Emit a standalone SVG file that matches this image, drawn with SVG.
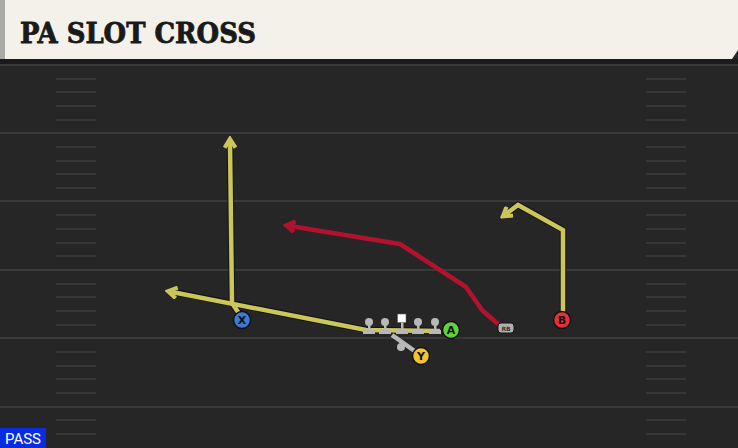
<svg xmlns="http://www.w3.org/2000/svg" width="738" height="448" viewBox="0 0 738 448">
<defs>
<style>
.yard{stroke:#3a3a3a;stroke-width:2}
.hash{stroke:#3c3c3c;stroke-width:1.5}
.route-o{fill:none;stroke:#141414;stroke-width:6.5;stroke-linejoin:miter}
.ry{fill:none;stroke:#cbc65a;stroke-width:4.5;stroke-linejoin:miter}
.rr{fill:none;stroke:#b3122f;stroke-width:4.5;stroke-linejoin:round}
.lbl{font-family:"DejaVu Sans",sans-serif;font-weight:bold;font-size:11px;text-anchor:middle;fill:#111}
.lm{fill:#b8b8b8}
</style>
<marker id="ay" viewBox="0 0 10 10" refX="5" refY="5" markerWidth="3" markerHeight="3" orient="auto" markerUnits="strokeWidth">
<path d="M1.5,1 L8,5 L1.5,9" fill="none" stroke="#cbc65a" stroke-width="3"/>
</marker>
<marker id="ar" viewBox="0 0 10 10" refX="5" refY="5" markerWidth="3" markerHeight="3" orient="auto" markerUnits="strokeWidth">
<path d="M1.5,1 L8,5 L1.5,9" fill="none" stroke="#b3122f" stroke-width="3"/>
</marker>
</defs>
<rect x="0" y="0" width="738" height="448" fill="#262626"/>
<g id="header">
<rect x="0" y="59" width="738" height="6" fill="#1b1b1b"/>
<path d="M0,0 H738 V50 L732,59 H0 Z" fill="#f4f1ea"/>
<rect x="0" y="0" width="5" height="59" fill="#a9aba7"/>
<text x="20" y="43" font-family="DejaVu Serif,serif" font-weight="bold" font-size="27" fill="#1a1a1a" stroke="#1a1a1a" stroke-width="0.8" textLength="236" lengthAdjust="spacingAndGlyphs">PA SLOT CROSS</text>
</g>
<g id="field">
<line class="yard" x1="0" y1="65" x2="738" y2="65"/>
<line class="yard" x1="0" y1="133" x2="738" y2="133"/>
<line class="yard" x1="0" y1="201" x2="738" y2="201"/>
<line class="yard" x1="0" y1="270" x2="738" y2="270"/>
<line class="yard" x1="0" y1="338" x2="738" y2="338"/>
<line class="yard" x1="0" y1="407" x2="738" y2="407"/>
<g class="hash">
<path d="M56,79H96M56,92H96M56,106H96M56,120H96M56,147H96M56,161H96M56,174H96M56,188H96M56,215H96M56,229H96M56,243H96M56,256H96M56,284H96M56,297H96M56,311H96M56,325H96M56,352H96M56,366H96M56,379H96M56,393H96M56,420H96M56,434H96"/>
<path d="M646,79H686M646,92H686M646,106H686M646,120H686M646,147H686M646,161H686M646,174H686M646,188H686M646,215H686M646,229H686M646,243H686M646,256H686M646,284H686M646,297H686M646,311H686M646,325H686M646,352H686M646,366H686M646,379H686M646,393H686M646,420H686M646,434H686"/>
</g>
</g>
<g id="connectors">
<path class="route-o" d="M242,318 L232,303 L230,146"/>
<path class="route-o" d="M440,331 L366,330 L174,292"/>
<path class="route-o" d="M563,312 L563,230 L518,205 L509,212"/>
<path class="ry" d="M242,318 L232,303 L230,143" marker-end="url(#ay)"/>
<path class="ry" d="M440,331 L366,330 L172,292" marker-end="url(#ay)"/>
<path class="ry" d="M563,312 L563,230 L518,205 L506,214" marker-end="url(#ay)"/>
<path class="rr" d="M498,324 L482,310 L466,287 L400,244 L290,226" marker-end="url(#ar)"/>
<path d="M392,335 L416,352" stroke="#b8b8b8" stroke-width="4.5" fill="none"/>
</g>
<g id="linemen">
<g class="lm">
<circle cx="369" cy="322" r="4"/><rect x="368" y="322" width="2.5" height="9"/><rect x="363" y="330" width="12" height="4"/>
<circle cx="385" cy="322" r="4"/><rect x="384" y="322" width="2.5" height="9"/><rect x="379" y="330" width="12" height="4"/>
<circle cx="418" cy="322" r="4"/><rect x="417" y="322" width="2.5" height="9"/><rect x="412" y="330" width="12" height="4"/>
<circle cx="435" cy="322" r="4"/><rect x="434" y="322" width="2.5" height="9"/><rect x="429" y="330" width="12" height="4"/>
<rect x="401" y="322" width="2.5" height="9"/><rect x="396" y="330" width="12" height="4"/>
<circle cx="401" cy="347" r="4"/>
</g>
<rect id="center" x="397.5" y="314" width="8.5" height="8.5" fill="#ffffff" stroke="#555" stroke-width="0.5"/>
</g>
<g id="X"><circle cx="242" cy="320" r="8.5" fill="#3d79d8" stroke="#111" stroke-width="1.5"/><text class="lbl" x="242" y="324">X</text></g>
<g id="A"><circle cx="451" cy="330" r="8.5" fill="#5fd23c" stroke="#111" stroke-width="1.5"/><text class="lbl" x="451" y="334">A</text></g>
<g id="Y"><circle cx="421" cy="356" r="8.5" fill="#f2c42c" stroke="#111" stroke-width="1.5"/><text class="lbl" x="421" y="360">Y</text></g>
<g id="B"><circle cx="562" cy="320" r="8.5" fill="#e2303f" stroke="#111" stroke-width="1.5"/><text class="lbl" x="562" y="324">B</text></g>
<g id="RB"><rect x="498" y="323" width="16" height="10" rx="3" fill="#b0b0b0" stroke="#111" stroke-width="1"/><text x="506" y="331" font-family="DejaVu Sans,sans-serif" font-weight="bold" font-size="6" text-anchor="middle" fill="#333">RB</text></g>
<g id="pass"><rect x="0" y="428" width="46" height="20" fill="#0a2ce0"/><text x="23" y="444" font-family="Roboto,sans-serif" font-size="15" text-anchor="middle" fill="#ffffff">PASS</text></g>
</svg>
